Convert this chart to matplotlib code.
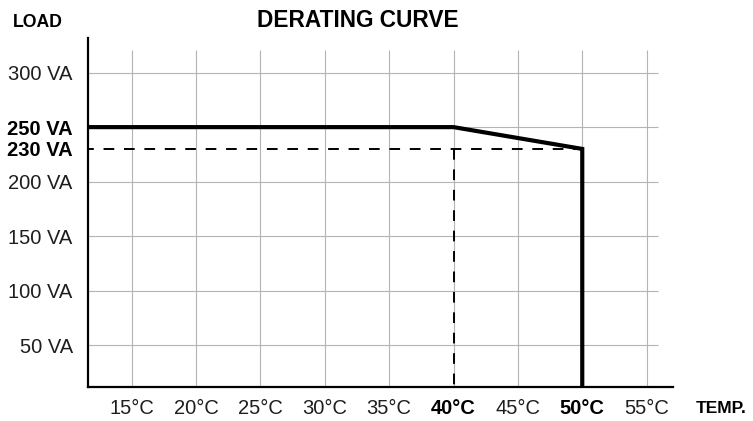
import matplotlib.pyplot as plt

plt.rcParams['font.family'] = ['Liberation Sans', 'DejaVu Sans']

# derating curve data
temp_ticks = [15, 20, 25, 30, 35, 40, 45, 50, 55]
temp_labels = ["15°C", "20°C", "25°C", "30°C", "35°C", "40°C", "45°C", "50°C", "55°C"]
bold_temps = ["40°C", "50°C"]
load_ticks = [50, 100, 150, 200, 230, 250, 300]
load_labels = ["50 VA", "100 VA", "150 VA", "200 VA", "230 VA", "250 VA", "300 VA"]
bold_loads = ["230 VA", "250 VA"]
grid_loads = [50, 100, 150, 200, 250, 300]

curve_t = [40, 50, 50]
curve_load = [250, 230, 0]
full_load = 250
derate_start = 40
derate_end = 50
derate_load = 230

W, H = 753, 421
fig = plt.figure(figsize=(W / 100, H / 100), dpi=100)
# axes box in pixels: left 88, right 673, top 38, bottom 387
ax = fig.add_axes([88 / W, (H - 387) / H, (673 - 88) / W, (387 - 38) / H])
xmin, xmax = 11.6, 57.05
ymin, ymax = 11.5, 331.8
ax.set_xlim(xmin, xmax)
ax.set_ylim(ymin, ymax)

# grid lines (drawn by hand, they stop short of the axes edge)
ax.vlines(temp_ticks, ymin, 320.8, color="#b4b4b4", lw=0.8, zorder=1)
ax.hlines(grid_loads, xmin, 55.9, color="#b4b4b4", lw=0.8, zorder=1)

# dashed helper lines
ax.plot([xmin, derate_end], [derate_load, derate_load], color="black", lw=1.4,
        linestyle=(2.5, (5.5, 5)), zorder=2)
ax.plot([derate_start, derate_start], [derate_load, ymin], color="black", lw=1.4,
        linestyle=(0, (5.5, 5)), zorder=2)

# the curve itself
ax.plot([xmin] + curve_t, [full_load] + curve_load, color="black", lw=3,
        solid_joinstyle="miter", zorder=3)

for s in ["top", "right"]:
    ax.spines[s].set_visible(False)
for s in ["left", "bottom"]:
    ax.spines[s].set_linewidth(1.6)
    ax.spines[s].set_zorder(4)

ax.set_xticks(temp_ticks)
ax.set_xticklabels(temp_labels)
ax.set_yticks(load_ticks)
ax.set_yticklabels(load_labels)
ax.tick_params(axis="both", length=0, labelsize=14.5, colors="#1e1e1e")
ax.tick_params(axis="x", pad=9)
ax.tick_params(axis="y", pad=11)
for lab in ax.get_xticklabels():
    if lab.get_text() in bold_temps:
        lab.set_fontweight("bold")
        lab.set_color("black")
for lab in ax.get_yticklabels():
    if lab.get_text() in bold_loads:
        lab.set_fontweight("bold")
        lab.set_color("black")

fig.text(358 / W, 1 - 20.5 / H, "DERATING CURVE", ha="center", va="center",
         fontsize=16.3, fontweight="bold")
fig.text(38 / W, 1 - 22.5 / H, "LOAD", ha="center", va="center",
         fontsize=12.7, fontweight="bold")
fig.text(721.5 / W, 1 - 408.5 / H, "TEMP.", ha="center", va="center",
         fontsize=12.5, fontweight="bold")

fig.savefig("out.png", dpi=100)
